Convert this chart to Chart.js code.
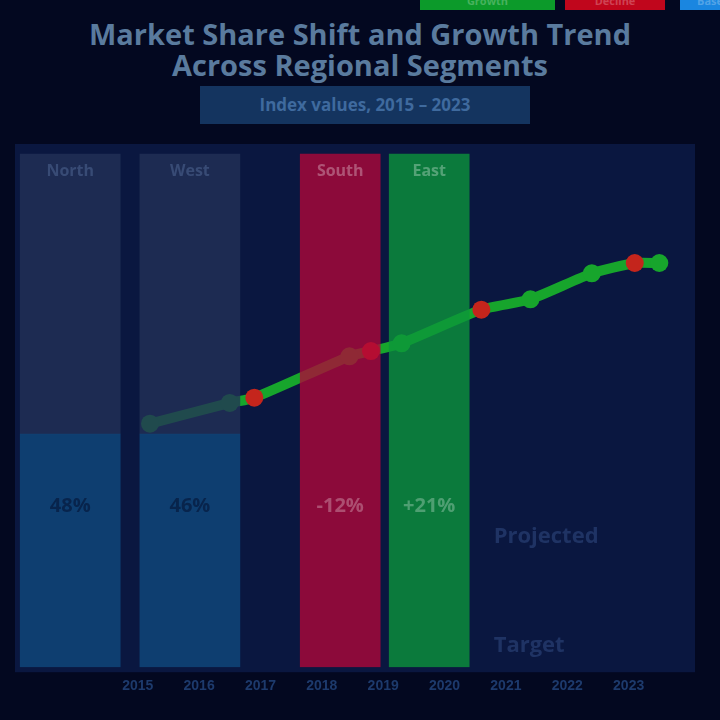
<!DOCTYPE html>
<html>
<head>
<meta charset="utf-8">
<script src="https://cdn.jsdelivr.net/npm/chart.js@4.4.1/dist/chart.umd.min.js"></script>
<style>
html, body { margin: 0; padding: 0; width: 720px; height: 720px; overflow: hidden; background: #030820; font-family: 'Open Sans', sans-serif; }
#legend { position: absolute; top: -9px; left: 420px; display: flex; }
#legend span { display: block; height: 19px; line-height: 19px; font-size: 11px; font-weight: bold; color: rgba(255,255,255,0.25); text-align: center; }
#title { position: absolute; top: 18px; left: 0; width: 720px; text-align: center; color: #5a7b9e; font-weight: bold; font-size: 29px; line-height: 31px; }
#subtitle { position: absolute; top: 86px; left: 200px; width: 330px; height: 38px; line-height: 38px; background: #14345f; color: #3f6a9e; text-align: center; font-size: 17px; font-weight: bold; }
#wrap { position: absolute; top: 140px; left: 0; width: 720px; height: 580px; }
</style>
</head>
<body>
<div id="legend">
  <span style="width:135px;background:#0c9a2a;margin-right:10px">Growth</span>
  <span style="width:100px;background:#c0061c;margin-right:15px">Decline</span>
  <span style="width:60px;background:#1a86e0">Base</span>
</div>
<div id="title">Market Share Shift and Growth Trend<br>Across Regional Segments</div>
<div id="subtitle">Index values, 2015 – 2023</div>
<div id="wrap"><canvas id="chart" width="720" height="580"></canvas></div>
<script>
// 数据
var barNames = ['North', 'West', 'South', 'East'];
var barX = [0.9, 2.85, 5.3, 6.75];
var barBase = [45, 45, 0, 0];     // 蓝色柱下段
var barTop = [99, 99, 99, 99];
var barLabels = ['48%', '46%', '-12%', '+21%'];

var trendX = [2.2, 3.5, 3.9, 5.45, 5.8, 6.3, 7.6, 8.4, 9.4, 10.1, 10.5];
var trendY = [47, 51, 52, 60, 61, 62.5, 69, 71, 76, 78, 78];
var trendDown = [false, false, true, false, true, false, true, false, false, true, false];

var tickValues = [2, 3, 4, 5, 6, 7, 8, 9, 10];
var tickLabels = ['2015', '2016', '2017', '2018', '2019', '2020', '2021', '2022', '2023'];

var notes = ['Projected', 'Target'];

// 背景和柱内文字
var panelPlugin = {
    id: 'panel',
    beforeDraw: function(chart) {
        var a = chart.chartArea, c = chart.ctx;
        c.save();
        c.fillStyle = '#0a1740';
        c.fillRect(a.left, a.top - 5, a.right - a.left + 5, a.bottom - a.top + 10);
        c.restore();
    },
    afterDatasetsDraw: function(chart) {
        var c = chart.ctx;
        var xs = chart.scales.x, ys = chart.scales.y;
        c.save();
        c.textAlign = 'center';
        for (var i = 0; i < barNames.length; i++) {
            var px = xs.getPixelForValue(barX[i]);
            c.font = 'bold 16px "Open Sans"';
            c.fillStyle = i < 2 ? 'rgba(120,150,200,0.3)' : 'rgba(255,255,255,0.3)';
            c.fillText(barNames[i], px, ys.getPixelForValue(barTop[i]) + 22);
            c.fillStyle = i < 2 ? 'rgba(2,10,40,0.5)' : 'rgba(255,255,255,0.28)';
            c.font = 'bold 20px "Open Sans"';
            c.fillText(barLabels[i], px, ys.getPixelForValue(30));
        }
        c.textAlign = 'left';
        c.font = 'bold 22px "Open Sans"';
        c.fillStyle = 'rgba(50,75,130,0.55)';
        c.fillText(notes[0], xs.getPixelForValue(7.8), ys.getPixelForValue(24));
        c.fillText(notes[1], xs.getPixelForValue(7.8), ys.getPixelForValue(3));
        c.restore();
    }
};

var ctx = document.getElementById('chart').getContext('2d');
var chart = new Chart(ctx, {
    type: 'bar',
    data: {
        datasets: [{
            label: 'Base',
            data: barX.slice(0, 2).map(function(x, i) { return { x: x, y: barBase[i] }; }),
            backgroundColor: 'rgba(15,73,126,0.78)',
            barThickness: 100,
            grouped: false,
            order: 1
        }, {
            label: 'Upper',
            data: barX.slice(0, 2).map(function(x, i) { return { x: x, y: [barBase[i], barTop[i]] }; }),
            backgroundColor: 'rgba(34,49,87,0.78)',
            barThickness: 100,
            grouped: false,
            order: 1
        }, {
            label: 'Decline',
            data: [{ x: barX[2], y: barTop[2] }],
            backgroundColor: 'rgba(177,6,56,0.78)',
            barThickness: 80,
            grouped: false,
            order: 1
        }, {
            label: 'Growth',
            data: [{ x: barX[3], y: barTop[3] }],
            backgroundColor: 'rgba(11,150,59,0.78)',
            barThickness: 80,
            grouped: false,
            order: 1
        }, {
            type: 'line',
            label: 'Trend',
            data: trendX.map(function(x, i) { return { x: x, y: trendY[i] }; }),
            borderColor: '#17a52c',
            borderWidth: 10,
            tension: 0.2,
            pointRadius: 9,
            pointBorderWidth: 0,
            pointBackgroundColor: function(c) { return trendDown[c.dataIndex] ? '#c4251c' : '#17a52c'; },
            order: 2
        }]
    },
    options: {
        responsive: false,
        animation: false,
        layout: { padding: { left: 15, right: 30, top: 5, bottom: 22 } },
        plugins: { legend: { display: false }, tooltip: { enabled: false } },
        scales: {
            x: {
                type: 'linear',
                offset: false,
                min: 0,
                max: 11,
                grid: { display: false },
                border: { display: false },
                afterBuildTicks: function(s) { s.ticks = tickValues.map(function(v) { return { value: v }; }); },
                ticks: {
                    color: '#1d3a6c',
                    font: { size: 14, weight: 'bold' },
                    callback: function(v) { return tickLabels[tickValues.indexOf(v)]; }
                }
            },
            y: {
                display: false,
                min: 0,
                max: 100
            }
        }
    },
    plugins: [panelPlugin]
});
</script>
</body>
</html>
